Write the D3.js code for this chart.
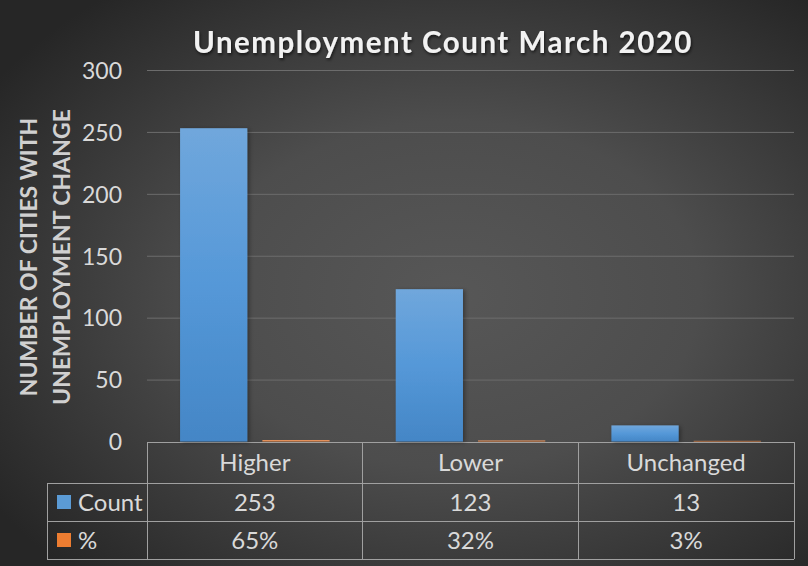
<!DOCTYPE html>
<html><head><meta charset="utf-8">
<script src="https://cdn.jsdelivr.net/npm/d3@7"></script>
<style>body{margin:0;background:#2a2a2a}svg{display:block}</style>
</head><body><svg id="c" width="808" height="566"></svg>
<script>
const categories = ["Higher", "Lower", "Unchanged"];
const seriesNames = ["Count", "%"];
const countValues = [253, 123, 13];
const percentValues = [0.65, 0.32, 0.03];
const percentLabels = ["65%", "32%", "3%"];
const countLabels = ["253", "123", "13"];
const yTicks = [0, 50, 100, 150, 200, 250, 300];
const chartTitle = "Unemployment Count March 2020";
const yTitleLines = ["NUMBER OF CITIES WITH", "UNEMPLOYMENT CHANGE"];

const W = 808, H = 566;
const L = 147, R = 794, T = 70, B = 441.5;
const FONT = "Lato, 'Open Sans', sans-serif";

const svg = d3.select("#c");
const defs = svg.append("defs");

const bg = defs.append("radialGradient").attr("id", "bg").attr("cx", "56%").attr("cy", "52%").attr("r", "68%");
bg.append("stop").attr("offset", "0%").attr("stop-color", "#575757");
bg.append("stop").attr("offset", "45%").attr("stop-color", "#4d4d4d");
bg.append("stop").attr("offset", "100%").attr("stop-color", "#262626");

const gBlue = defs.append("linearGradient").attr("id", "gBlue").attr("x1", 0).attr("y1", 0).attr("x2", 0).attr("y2", 1);
gBlue.append("stop").attr("offset", "0%").attr("stop-color", "#70a7dc");
gBlue.append("stop").attr("offset", "50%").attr("stop-color", "#5598d8");
gBlue.append("stop").attr("offset", "100%").attr("stop-color", "#4486c6");
const gOr = defs.append("linearGradient").attr("id", "gOr").attr("x1", 0).attr("y1", 0).attr("x2", 0).attr("y2", 1);
gOr.append("stop").attr("offset", "0%").attr("stop-color", "#f6a06a");
gOr.append("stop").attr("offset", "100%").attr("stop-color", "#e8823f");

const sh = defs.append("filter").attr("id", "sh").attr("x", "-20%").attr("y", "-20%").attr("width", "150%").attr("height", "150%");
sh.append("feDropShadow").attr("dx", 2).attr("dy", 1).attr("stdDeviation", 2).attr("flood-color", "#000").attr("flood-opacity", 0.35);
const tsh = defs.append("filter").attr("id", "tsh").attr("x", "-10%").attr("y", "-30%").attr("width", "120%").attr("height", "160%");
tsh.append("feDropShadow").attr("dx", 1).attr("dy", 2).attr("stdDeviation", 1.5).attr("flood-color", "#000").attr("flood-opacity", 0.6);

svg.append("rect").attr("width", W).attr("height", H).attr("fill", "url(#bg)");

const y = d3.scaleLinear().domain([0, 300]).range([B, T]);
const x0 = d3.scaleBand().domain(categories).range([L, R]).padding(0);
const x1 = d3.scaleBand().domain(seriesNames).range([0, x0.bandwidth()]).paddingInner(0.183).paddingOuter(0.402);

// gridlines
svg.append("g").attr("transform", `translate(${L},0)`)
  .call(d3.axisLeft(y).tickValues(yTicks.filter(t => t > 0)).tickSize(-(R - L)).tickFormat(""))
  .call(g => g.select(".domain").remove())
  .call(g => g.selectAll("line").attr("stroke", "#6c6c6c").attr("stroke-width", 1));

// y tick labels
svg.append("g").attr("transform", `translate(${L},0)`)
  .call(d3.axisLeft(y).tickValues(yTicks).tickSize(0).tickPadding(25))
  .call(g => g.select(".domain").remove())
  .call(g => g.selectAll("text").attr("fill", "#d9d9d9").style("font-family", FONT).style("font-size", "23px").attr("dy", "0.36em"));

// y title
const yt = svg.append("g").attr("transform", "translate(0,257) rotate(-90)");
yt.selectAll("text").data(yTitleLines).join("text")
  .attr("x", 0).attr("y", (d, i) => [37, 69.5][i])
  .attr("text-anchor", "middle")
  .attr("fill", "#d0d0d0").style("font-family", FONT).style("font-weight", "bold").style("font-size", "23px")
  .text(d => d);

// title
svg.append("text").attr("x", 443).attr("y", 53).attr("text-anchor", "middle")
  .attr("fill", "#f2f2f2").attr("filter", "url(#tsh)")
  .style("font-family", FONT).style("font-weight", "bold").style("font-size", "29.5px").style("letter-spacing", "1.5px")
  .text(chartTitle);

// table lines
const lineC = "#a0a0a0";
const tl = svg.append("g").attr("stroke", lineC).attr("stroke-width", 1).attr("shape-rendering", "crispEdges");
const rowTop = 442, row1 = 483, row2 = 521, rowEnd = 559, tLeft = 47;
tl.append("line").attr("x1", L).attr("x2", R).attr("y1", rowTop).attr("y2", rowTop);
[row1, row2, rowEnd].forEach(yy => tl.append("line").attr("x1", tLeft).attr("x2", R).attr("y1", yy).attr("y2", yy));
tl.append("line").attr("x1", tLeft).attr("x2", tLeft).attr("y1", row1).attr("y2", rowEnd);
[L, ...categories.map(c => x0(c) + x0.bandwidth())].forEach(xx =>
  tl.append("line").attr("x1", xx).attr("x2", xx).attr("y1", rowTop).attr("y2", rowEnd));

// bars
const barData = [];
categories.forEach((c, i) => {
  barData.push({ cat: c, s: "Count", v: countValues[i] });
  barData.push({ cat: c, s: "%", v: percentValues[i] });
});
svg.append("g").selectAll("rect").data(barData).join("rect")
  .attr("x", d => x0(d.cat) + x1(d.s))
  .attr("width", x1.bandwidth())
  .attr("y", d => y(d.v) - (d.s === "%" ? 0.6 : 0))
  .attr("height", d => y(0) - y(d.v) + (d.s === "%" ? 0.6 : 0))
  .attr("fill", d => d.s === "Count" ? "url(#gBlue)" : "url(#gOr)")
  .attr("filter", d => d.s === "Count" ? "url(#sh)" : null);

// table text
const tt = { fill: "#d9d9d9", size: "24px" };
const txt = (sel) => sel.attr("fill", tt.fill).style("font-family", FONT).style("font-size", tt.size);
svg.append("g").selectAll("text").data(categories).join("text")
  .attr("x", d => x0(d) + x0.bandwidth() / 2).attr("y", (rowTop + row1) / 2).attr("dy", "0.36em")
  .attr("text-anchor", "middle").call(txt).text(d => d);
svg.append("g").selectAll("text").data(countLabels).join("text")
  .attr("x", (d, i) => x0(categories[i]) + x0.bandwidth() / 2).attr("y", (row1 + row2) / 2).attr("dy", "0.36em")
  .attr("text-anchor", "middle").call(txt).text(d => d);
svg.append("g").selectAll("text").data(percentLabels).join("text")
  .attr("x", (d, i) => x0(categories[i]) + x0.bandwidth() / 2).attr("y", (row2 + rowEnd) / 2).attr("dy", "0.36em")
  .attr("text-anchor", "middle").call(txt).text(d => d);

// legend keys in table
const keyColors = ["#5b9bd5", "#ed7d31"];
const rowsMid = [(row1 + row2) / 2, (row2 + rowEnd) / 2];
const lg = svg.append("g").selectAll("g").data(seriesNames).join("g");
lg.append("rect").attr("x", 57).attr("y", (d, i) => rowsMid[i] - 7).attr("width", 14).attr("height", 14)
  .attr("fill", (d, i) => keyColors[i]);
lg.append("text").attr("x", 78).attr("y", (d, i) => rowsMid[i]).attr("dy", "0.36em").call(txt).text(d => d);
</script>
</body></html>
